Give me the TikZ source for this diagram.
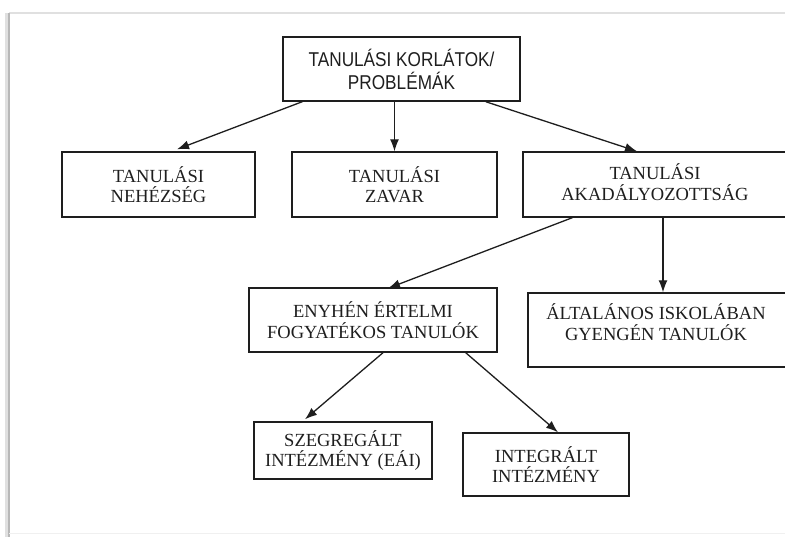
\documentclass[tikz,border=0pt]{standalone}
\usepackage{fontspec}
\setmainfont{Liberation Serif}
\newfontfamily\narrowsans[FakeStretch=0.86]{Liberation Sans}
\usetikzlibrary{arrows.meta,calc}
\definecolor{ink}{HTML}{1E1E1E}
\tikzset{
  box/.style={draw=ink,line width=1.4pt,rectangle,inner sep=0pt,text=ink,align=center,
    font=\fontsize{18.5}{20.5}\selectfont},
  label/.style={text=ink,align=center,inner sep=0pt,font=\fontsize{18.5}{21}\selectfont},
  conn/.style={draw=ink,line width=1.3pt,-{Latex[length=12pt,width=9pt]}},
}
\begin{document}
\begin{tikzpicture}[x=1pt,y=-1pt]
\useasboundingbox (0,0) rectangle (785,536);
\clip (0,0) rectangle (785,536);
% page frame
\draw[draw=black!12,line width=1.5pt] (9,13) -- (790,13);
\draw[draw=black!12,line width=5pt] (7,13) -- (7,540);
\draw[draw=black!28,line width=2pt] (9,13) -- (9,540);
\draw[draw=black!6,line width=1pt] (9,533) -- (790,533);
% boxes
\node[box,minimum width=237pt,minimum height=64pt,
  font=\narrowsans\fontsize{20}{23}\selectfont] (top) at (401.5,69) {TANULÁSI KORLÁTOK/\\PROBLÉMÁK};
\node[box,minimum width=193pt,minimum height=65pt] (neh) at (158.5,184.5) {TANULÁSI\\NEHÉZSÉG};
\node[box,minimum width=205pt,minimum height=65pt] (zav) at (394.5,184.5) {TANULÁSI\\ZAVAR};
\node[box,minimum width=280pt,minimum height=65pt] (akad) at (663,184.5) {};
\node[label] (akadT) at (655,182) {TANULÁSI\\AKADÁLYOZOTTSÁG};
\node[box,minimum width=270pt,minimum height=74pt] (alt) at (663,330) {};
\node[label] (altT) at (656,322) {ÁLTALÁNOS ISKOLÁBAN\\GYENGÉN TANULÓK};
\node[box,minimum width=248pt,minimum height=64pt] (eny) at (373,320) {ENYHÉN ÉRTELMI\\FOGYATÉKOS TANULÓK};
\node[box,minimum width=178pt,minimum height=57pt] (szeg) at (343,450.5) {SZEGREGÁLT\\INTÉZMÉNY (EÁI)};
\node[box,minimum width=166pt,minimum height=63pt] (int) at (546,464.5) {INTEGRÁLT\\INTÉZMÉNY};
% connectors
\draw[conn] ([xshift=20pt]top.south west) -- ([xshift=18.5pt,yshift=2pt]neh.north);
\draw[conn] (top.south -| zav.north) -- (zav.north);
\draw[conn] ([xshift=-35pt]top.south east) -- ([xshift=-26pt]akad.north);
\draw[conn] ([xshift=50pt]akad.south west) -- ([xshift=15pt,yshift=-1pt]eny.north);
\draw[conn] (akad.south) -- (alt.north);
\draw[conn] ([xshift=10pt]eny.south) -- ([xshift=-38pt,yshift=2pt]szeg.north);
\draw[conn] ([xshift=-32pt]eny.south east) -- ([xshift=12pt]int.north);
\end{tikzpicture}
\end{document}
